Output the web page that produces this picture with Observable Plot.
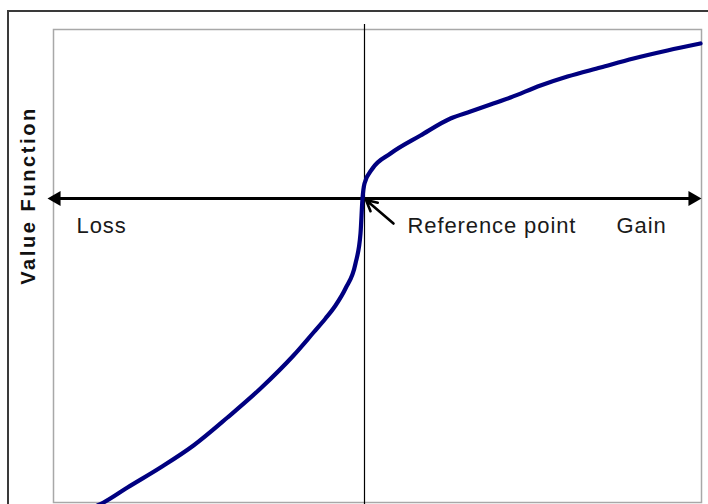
<!DOCTYPE html>
<html>
<head>
<meta charset="utf-8">
<script src="https://cdn.jsdelivr.net/npm/d3@7"></script>
<script src="https://cdn.jsdelivr.net/npm/@observablehq/plot@0.6"></script>
<style>
  html, body { margin: 0; padding: 0; background: #fff; }
  #wrap { position: relative; width: 708px; height: 504px; overflow: hidden; background: #fff; }
  #outer { position: absolute; left: 7px; top: 10px; width: 760px; height: 560px; border: 2px solid #3a3a3a; pointer-events: none; }
</style>
</head>
<body>
<div id="wrap"><div id="outer"></div></div>
<script>
// Value function curve (gain/loss relative to the reference point, value)
const curveX = [-26.7, -26.1, -23.7, -20.4, -17.1, -13.7, -10.4, -7.1, -5.1, -3.9, -2.9, -1.9, -0.9, -0.4, -0.2, 0.0, 0.8, 2.6, 5.6, 8.6, 10.6, 12.6, 14.6, 17.6, 20.3, 23.6, 26.9, 30.3, 33.6];
const curveY = [-30.7, -30.4, -28.9, -26.9, -24.7, -21.9, -19.0, -15.7, -13.4, -12.0, -10.7, -9.0, -6.5, -3.5, 0.0, 1.5, 3.0, 4.5, 6.3, 8.0, 8.7, 9.4, 10.1, 11.3, 12.2, 13.1, 14.0, 14.8, 15.5];

// Scale extents
const xDomain = [-31.1, 33.7];
const yDomain = [-30.4, 16.9];

// Horizontal gain/loss axis with two arrowheads
const axisEnds = [-31.0, 33.0];
const arrowHeadX = [-30.83, 32.83];
const arrowHeadRotate = [-90, 90];

// Vertical reference line extent
const refLineY = [17.4, -31.0];

// Pointer to the reference point
const pointerFrom = [2.9, -2.5];
const pointerTo = [0.15, -0.15];

// Labels
const labelText = ["Loss", "Reference point", "Gain"];
const labelX = [-28.8, 4.3, 25.2];
const labelY = [-2.7, -2.7, -2.7];
const yTitle = "Value Function";
const yTitleX = -33.55;
const yTitleY = 0.3;

const curve = curveX.map((x, i) => ({x, y: curveY[i]}));
const heads = arrowHeadX.map((x, i) => ({x, y: 0, r: arrowHeadRotate[i]}));
const labels = labelText.map((t, i) => ({t, x: labelX[i], y: labelY[i]}));

const chart = Plot.plot({
  width: 708,
  height: 504,
  marginLeft: 53,
  marginRight: 7,
  marginTop: 29,
  marginBottom: 2,
  style: {fontFamily: "'Liberation Sans', Arial, sans-serif", background: "transparent", overflow: "visible"},
  x: {domain: xDomain, axis: null},
  y: {domain: yDomain, axis: null},
  marks: [
    Plot.frame({stroke: "#a8a8a8", strokeWidth: 1.5}),
    Plot.ruleX([0], {y1: refLineY[0], y2: refLineY[1], stroke: "#000", strokeWidth: 1.2}),
    Plot.ruleY([0], {x1: axisEnds[0], x2: axisEnds[1], stroke: "#000", strokeWidth: 3}),
    Plot.dot(heads, {x: "x", y: "y", rotate: "r", symbol: "triangle", r: 5.6, fill: "#000", stroke: "none"}),
    Plot.line(curve, {x: "x", y: "y", stroke: "#000080", strokeWidth: 4.2, curve: "monotone-x"}),
    Plot.arrow([0], {x1: pointerFrom[0], y1: pointerFrom[1], x2: pointerTo[0], y2: pointerTo[1], stroke: "#000", strokeWidth: 2.6, headLength: 11, headAngle: 55}),
    Plot.text(labels, {x: "x", y: "y", text: "t", textAnchor: "start", fontSize: 22, fill: "#1a1a1a"}),
    Plot.text([yTitle], {x: yTitleX, y: yTitleY, text: d => d, rotate: -90, fontSize: 20, fontWeight: "bold", fill: "#111"})
  ]
});

const svg = d3.select(chart);
svg.selectAll("text")
  .filter(function() { return this.textContent === yTitle; })
  .attr("letter-spacing", "2.6px");
svg.selectAll("text")
  .filter(function() { return labelText.includes(this.textContent); })
  .attr("letter-spacing", "0.9px");

document.getElementById("wrap").insertBefore(chart, document.getElementById("outer"));
</script>
</body>
</html>
